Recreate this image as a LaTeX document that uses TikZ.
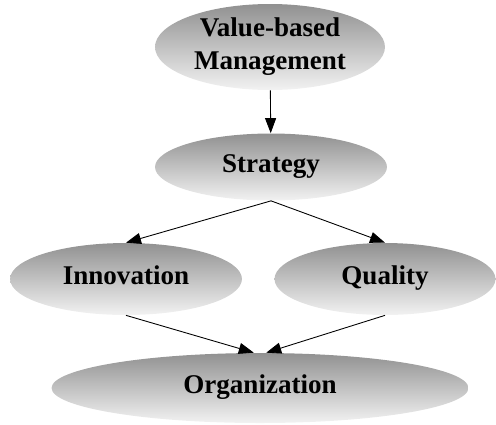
\documentclass[tikz,border=0pt]{standalone}
\usepackage{fontspec}
\setmainfont{Liberation Serif}
\usetikzlibrary{shapes.geometric,arrows.meta}
\definecolor{shtop}{RGB}{145,145,145}
\definecolor{shbot}{RGB}{242,242,242}
\tikzset{
  oval/.style={ellipse, inner sep=0pt, top color=shtop, bottom color=shbot,
    font=\fontsize{15.4}{18.7}\selectfont\bfseries, align=center},
  oneline/.style={text height=0.66em, text depth=0pt},
  edge/.style={-{Triangle[length=0.3cm,width=0.22cm]}, line width=0.5pt}
}
\begin{document}
\begin{tikzpicture}[x=0.02cm,y=-0.02cm]
  \useasboundingbox (0,0) rectangle (496,424);
  \node[oval, minimum width=4.6cm, minimum height=1.72cm] (vbm) at (270,47) {Value-based\\Management};
  \node[oval, oneline, minimum width=4.64cm, minimum height=1.34cm] (strat) at (271,167) {Strategy};
  \node[oval, oneline, minimum width=4.64cm, minimum height=1.44cm] (innov) at (126,279) {Innovation};
  \node[oval, oneline, minimum width=4.42cm, minimum height=1.44cm] (qual) at (385,279) {Quality};
  \node[oval, oneline, minimum width=8.34cm, minimum height=1.4cm] (org) at (260,388) {Organization};
  \draw[edge] (vbm) to (strat);
  \draw[edge] (strat.south) to (innov.north);
  \draw[edge] (strat.south) to (qual.north);
  \draw[edge] (innov.south) to (org.100);
  \draw[edge] (qual.south) to (org.80);
\end{tikzpicture}
\end{document}
